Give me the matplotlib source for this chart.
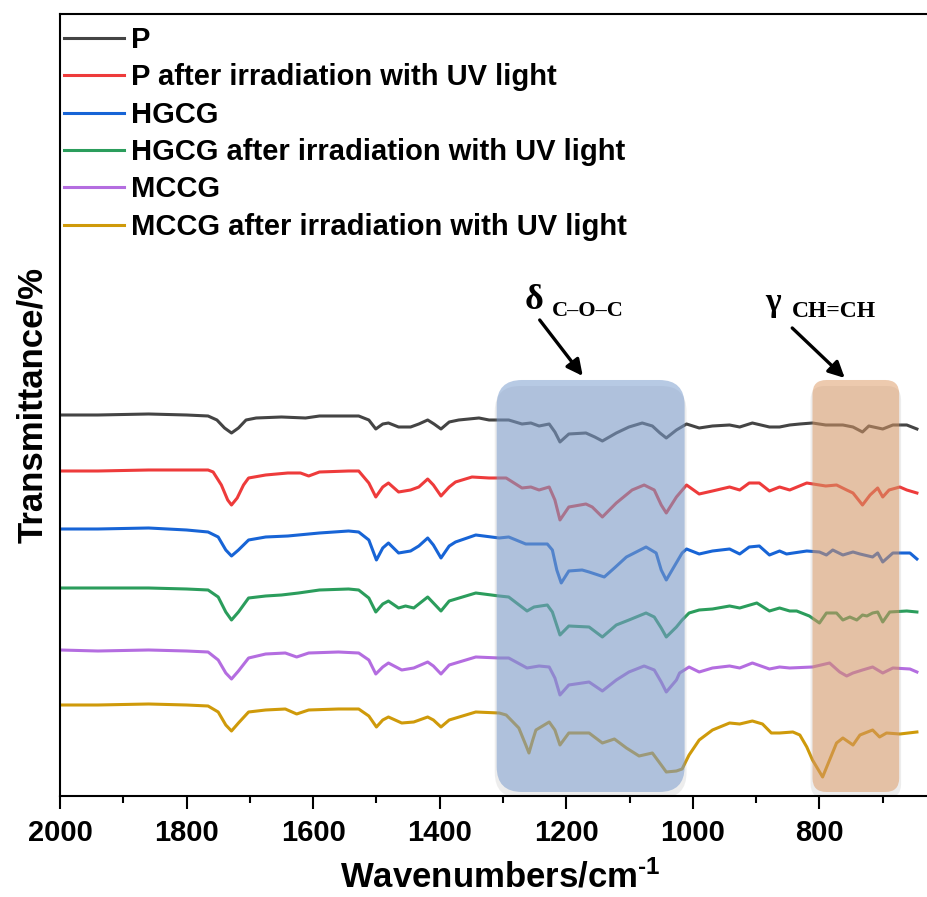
import matplotlib
matplotlib.use("Agg")
import matplotlib.pyplot as plt
from matplotlib.patches import FancyBboxPatch
from matplotlib.ticker import MultipleLocator

plt.rcParams['font.family'] = ['Liberation Sans', 'DejaVu Sans']
plt.rcParams['font.weight'] = 'bold'
plt.rcParams['axes.labelweight'] = 'bold'
plt.rcParams['mathtext.fontset'] = 'custom'
plt.rcParams['mathtext.rm'] = 'Liberation Sans:bold'
plt.rcParams['mathtext.bf'] = 'Liberation Sans:bold'
plt.rcParams['mathtext.default'] = 'rm'

# FTIR spectra (stacked, arbitrary transmittance units)
labels = ["P", "P after irradiation with UV light", "HGCG",
          "HGCG after irradiation with UV light", "MCCG",
          "MCCG after irradiation with UV light"]
colors = ["#444444", "#ee3b3b", "#1764d6", "#2b9d5c", "#b46de0", "#cf9a0a"]

wn_p = [2000, 1940, 1860, 1800, 1766, 1752, 1740, 1729, 1718, 1706, 1690, 1650, 1612, 1590, 1544,
        1528, 1512, 1501, 1490, 1481, 1465, 1446, 1433, 1419, 1409, 1398, 1385, 1370, 1338, 1322,
        1291, 1270, 1256, 1243, 1227, 1218, 1210, 1196, 1169, 1155, 1143, 1121, 1101, 1080, 1064,
        1052, 1042, 1026, 1010, 990, 969, 942, 926, 906, 879, 863, 847, 831, 811, 790,
        763, 747, 732, 722, 700, 684, 662, 646]
t_p = [385, 385, 386, 385, 384, 380, 372, 367, 372, 380, 382, 383, 382, 384, 384,
       384, 380, 371, 376, 377, 373, 373, 376, 380, 376, 371, 378, 380, 382, 380,
       380, 376, 377, 374, 376, 368, 358, 366, 367, 363, 359, 367, 373, 377, 374,
       367, 362, 370, 376, 372, 374, 375, 373, 377, 373, 373, 375, 376, 377, 375,
       375, 373, 368, 374, 371, 375, 375, 371]

wn_p_uv = [2000, 1940, 1860, 1800, 1766, 1758, 1745, 1735, 1729, 1720, 1710, 1702, 1675, 1640, 1620,
           1607, 1590, 1544, 1528, 1512, 1501, 1490, 1481, 1465, 1446, 1433, 1419, 1410, 1398, 1385,
           1375, 1349, 1322, 1295, 1270, 1256, 1243, 1227, 1218, 1210, 1196, 1169, 1159, 1143, 1121,
           1096, 1077, 1061, 1050, 1042, 1026, 1010, 990, 969, 942, 926, 911, 895, 879, 863,
           847, 820, 790, 773, 757, 747, 732, 720, 708, 700, 690, 673, 662, 646]
t_p_uv = [329, 329, 330, 330, 330, 328, 315, 300, 295, 302, 315, 322, 325, 327, 327,
          324, 328, 329, 329, 317, 303, 313, 317, 308, 310, 313, 321, 315, 304, 313,
          318, 323, 322, 322, 312, 313, 310, 313, 300, 280, 293, 296, 293, 283, 297,
          310, 315, 310, 295, 287, 303, 315, 306, 309, 313, 310, 317, 317, 309, 313,
          310, 317, 314, 315, 310, 307, 295, 305, 312, 303, 310, 313, 310, 307]

wn_hgcg = [2000, 1940, 1860, 1800, 1766, 1750, 1738, 1729, 1718, 1702, 1675, 1640, 1590, 1544, 1528,
           1512, 1500, 1490, 1481, 1465, 1446, 1433, 1419, 1410, 1398, 1385, 1375, 1343, 1306, 1291,
           1264, 1230, 1222, 1215, 1208, 1196, 1175, 1164, 1140, 1124, 1105, 1074, 1058, 1050, 1042,
           1030, 1017, 1010, 990, 969, 942, 926, 911, 895, 879, 863, 852, 820, 800, 789,
           779, 763, 747, 736, 716, 708, 700, 684, 657, 646]
t_hgcg = [271, 271, 272, 270, 268, 263, 250, 244, 250, 260, 263, 264, 267, 269, 268,
          260, 240, 252, 257, 247, 249, 254, 262, 255, 242, 254, 258, 265, 262, 263,
          256, 256, 250, 230, 217, 229, 230, 228, 223, 232, 243, 253, 247, 230, 220,
          233, 247, 251, 246, 249, 251, 246, 253, 254, 245, 249, 246, 249, 248, 245,
          250, 245, 248, 246, 243, 247, 238, 247, 247, 241]

wn_hgcg_uv = [2000, 1940, 1860, 1800, 1766, 1750, 1738, 1729, 1718, 1702, 1675, 1650, 1623, 1590, 1544,
              1528, 1512, 1501, 1490, 1481, 1465, 1454, 1441, 1419, 1410, 1398, 1385, 1343, 1306, 1291,
              1262, 1251, 1230, 1222, 1210, 1196, 1164, 1143, 1121, 1101, 1074, 1061, 1050, 1042, 1026,
              1017, 1006, 990, 969, 942, 926, 899, 879, 863, 847, 836, 816, 800, 789, 773,
              763, 752, 741, 732, 725, 716, 708, 700, 689, 662, 646]
t_hgcg_uv = [212, 212, 212, 211, 210, 203, 188, 180, 188, 202, 204, 205, 207, 210, 211,
             210, 202, 188, 196, 199, 192, 194, 192, 203, 197, 189, 199, 207, 204, 203,
             189, 193, 195, 188, 165, 174, 173, 163, 175, 180, 187, 183, 172, 163, 173,
             180, 187, 190, 191, 194, 192, 197, 189, 192, 189, 189, 184, 177, 187, 187,
             180, 183, 180, 185, 184, 187, 188, 178, 188, 189, 188]

wn_mccg = [2000, 1940, 1860, 1800, 1766, 1750, 1738, 1729, 1718, 1702, 1675, 1644, 1626, 1607, 1560,
           1528, 1512, 1501, 1490, 1481, 1460, 1441, 1419, 1410, 1398, 1385, 1343, 1306, 1291, 1262,
           1243, 1227, 1218, 1210, 1196, 1164, 1143, 1121, 1101, 1077, 1061, 1050, 1042, 1026, 1021,
           1006, 990, 969, 942, 926, 906, 879, 863, 847, 811, 784, 768, 757, 747, 732,
           716, 700, 684, 657, 646]
t_mccg = [150, 149, 150, 149, 148, 140, 127, 121, 129, 142, 146, 147, 143, 147, 148,
          147, 140, 126, 133, 137, 130, 132, 138, 134, 126, 135, 143, 142, 142, 132,
          134, 133, 122, 105, 115, 118, 109, 120, 128, 134, 130, 118, 108, 120, 127,
          133, 128, 132, 134, 132, 137, 131, 133, 132, 133, 137, 128, 124, 127, 130,
          133, 127, 132, 131, 128]

wn_mccg_uv = [2000, 1940, 1860, 1800, 1766, 1750, 1738, 1729, 1718, 1702, 1675, 1644, 1626, 1607, 1560,
              1528, 1512, 1500, 1490, 1481, 1460, 1441, 1419, 1410, 1398, 1385, 1343, 1306, 1295, 1275,
              1264, 1259, 1253, 1248, 1227, 1218, 1210, 1196, 1164, 1143, 1124, 1105, 1085, 1064, 1050,
              1042, 1026, 1017, 1006, 990, 969, 942, 926, 906, 890, 876, 863, 842, 831, 820,
              811, 795, 784, 773, 763, 747, 736, 716, 705, 694, 673, 646]
t_mccg_uv = [95, 95, 96, 95, 94, 88, 75, 69, 77, 88, 90, 91, 86, 90, 91,
             91, 84, 73, 80, 83, 77, 78, 83, 80, 73, 80, 88, 87, 85, 72,
             55, 47, 60, 70, 78, 70, 55, 67, 67, 57, 61, 52, 44, 47, 35,
             28, 29, 31, 45, 60, 70, 77, 76, 79, 76, 67, 67, 68, 65, 53,
             40, 23, 40, 57, 62, 55, 65, 70, 63, 67, 66, 68]

spectra = [(wn_p, t_p), (wn_p_uv, t_p_uv), (wn_hgcg, t_hgcg),
           (wn_hgcg_uv, t_hgcg_uv), (wn_mccg, t_mccg), (wn_mccg_uv, t_mccg_uv)]

# highlighted bands (cm-1)
band_coc = (1013, 1310)
band_chch = (674, 811)


def add_band(ax, lo, hi, color, alpha, rad):
    """
    Rounded translucent box over a wavenumber range, with a faint shadow.
    """
    asp = 0.633
    shadow = FancyBboxPatch((lo - 3, 2), hi - lo + 6, 412,
                            boxstyle="round,pad=0,rounding_size=%g" % rad,
                            mutation_aspect=asp, fc="#8c8c8c", ec="none",
                            alpha=0.15, zorder=2.5)
    box = FancyBboxPatch((lo, 8), hi - lo, 412,
                         boxstyle="round,pad=0,rounding_size=%g" % rad,
                         mutation_aspect=asp, fc=color, ec="none",
                         alpha=alpha, zorder=3)
    ax.add_patch(shadow)
    ax.add_patch(box)


fig = plt.figure(figsize=(9.27, 8.97), dpi=100)
ax = fig.add_axes([0.0647, 0.1126, 0.949, 0.8718])

for (wn, t), c, lab in zip(spectra, colors, labels):
    ax.plot(wn, t, color=c, lw=2.2, label=lab, solid_joinstyle='round', zorder=2)

add_band(ax, band_coc[0], band_coc[1], "#789bcd", 0.53, 40)
add_band(ax, band_chch[0], band_chch[1], "#dc965f", 0.5, 22)

ax.set_xlim(2000, 610)
ax.set_ylim(4, 786)
ax.set_yticks([])
ax.set_xticks([2000, 1800, 1600, 1400, 1200, 1000, 800])
ax.xaxis.set_minor_locator(MultipleLocator(100))
ax.tick_params(axis='x', which='major', direction='out', length=9.5, width=1.5,
               labelsize=21, pad=7)
ax.tick_params(axis='x', which='minor', direction='out', length=5, width=1.5)
for s in ax.spines.values():
    s.set_linewidth(1.5)

ax.set_xlabel(r"Wavenumbers/cm$^{\text{-1}}$", fontsize=25, fontweight='bold', labelpad=9)
ax.set_ylabel("Transmittance/%", fontsize=25, fontweight='bold', labelpad=8)

ax.legend(loc='upper left', bbox_to_anchor=(-0.002, 0.992), frameon=False,
          prop={'weight': 'bold', 'size': 21}, handlelength=2.05,
          handletextpad=0.25, labelspacing=0.32, borderaxespad=0, borderpad=0.2)

# band annotations
ax.text(1266, 491, "δ", family="Liberation Serif", weight="bold", fontsize=26)
ax.text(1223, 484, "C–O–C", family="Liberation Serif", weight="bold", fontsize=16)
ax.text(885, 489, "γ", family="Liberation Serif", weight="bold", fontsize=24)
ax.text(844, 483, "CH=CH", family="Liberation Serif", weight="bold", fontsize=17)
arrow = dict(arrowstyle='-|>', color='black', lw=2.4, mutation_scale=24,
             shrinkA=0, shrinkB=0)
ax.annotate("", xy=(1174, 424), xytext=(1242, 480), arrowprops=arrow)
ax.annotate("", xy=(760, 422), xytext=(843, 472), arrowprops=arrow)

fig.savefig("out.png", dpi=100)
